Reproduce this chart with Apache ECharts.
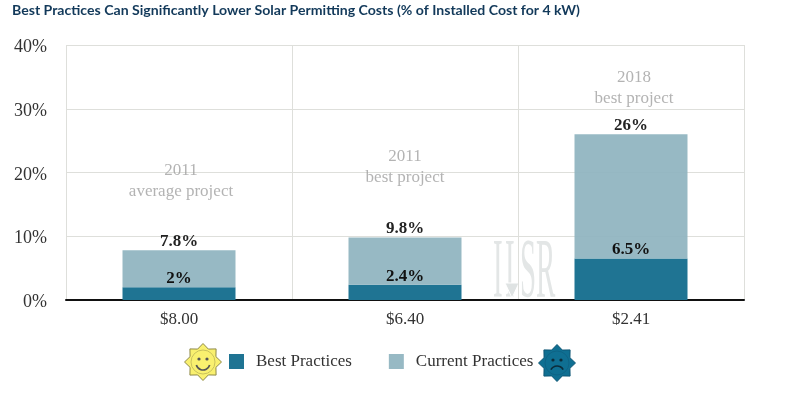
<!DOCTYPE html>
<html><head><meta charset="utf-8">
<script src="https://cdn.jsdelivr.net/npm/echarts@6/dist/echarts.min.js"></script>
<style>html,body{margin:0;padding:0;background:#fff}#c{width:805px;height:394px}</style>
</head><body><div id="c"></div>
<script>
const categories = ['$8.00', '$6.40', '$2.41'];
const bestPractices = [2, 2.4, 6.5];
const currentPractices = [5.8, 7.4, 19.5];
const bestLabels = ['2%', '2.4%', '6.5%'];
const totalLabels = ['7.8%', '9.8%', '26%'];
const notes = ['2011\naverage project', '2011\nbest project', '2018\nbest project'];
const noteHeights = [18.7, 20.8, 33.3];
const yTicks = [0, 10, 20, 30, 40];

const serif = '"Liberation Serif", serif';
const noteShift = [2, 0, 3];
function star(cx, cy, r1, r2, n) {
  const pts = [];
  for (let i = 0; i < n * 2; i++) {
    const a = -Math.PI / 2 + i * Math.PI / n, r = i % 2 ? r2 : r1;
    pts.push([cx + r * Math.cos(a), cy + r * Math.sin(a)]);
  }
  return pts;
}
function face(cx, cy, fill, stroke, happy) {
  const ink = happy ? '#555' : '#0c2c3a';
  return [
    {type:'polygon', shape:{points:star(cx,cy,18.5,14,8)}, style:{fill, stroke, lineWidth:1, lineJoin:'round'}},
    {type:'circle', shape:{cx,cy,r:12}, style:{fill, stroke: happy ? '#b5ad55' : '#0f5f80', lineWidth:0.7}},
    {type:'circle', shape:{cx:cx-4,cy:cy-3,r:1.6}, style:{fill:ink}},
    {type:'circle', shape:{cx:cx+4,cy:cy-3,r:1.6}, style:{fill:ink}},
    {type:'arc', shape: happy
      ? {cx,cy:cy+1,r:7,startAngle:0.3,endAngle:Math.PI-0.3}
      : {cx,cy:cy+10,r:7,startAngle:Math.PI+0.5,endAngle:2*Math.PI-0.5},
      style:{stroke:ink,lineWidth:1.7,fill:null}}
  ];
}
const mark = '#e3e6e6';
const chart = echarts.init(document.getElementById('c'), null, {renderer:'canvas'});
chart.setOption({
  animation:false,
  backgroundColor:'#fff',
  title:{text:'Best Practices Can Significantly Lower Solar Permitting Costs (% of Installed Cost for 4 kW)',
    left:7, top:-2,
    textStyle:{fontFamily:'Lato, sans-serif', fontSize:14.1, fontWeight:'bold', color:'#12395a'}},
  grid:{left:66, right:61, top:45, bottom:94},
  legend:{left:224, top:348, itemWidth:15, itemHeight:15, itemGap:37, icon:'rect',
    data:['Best Practices','Current Practices'],
    textStyle:{fontFamily:serif, fontSize:17, color:'#333', padding:[0,0,0,7]}},
  xAxis:{type:'category', data:categories,
    axisLine:{lineStyle:{color:'#111', width:2}}, axisTick:{show:false},
    axisLabel:{fontFamily:serif, fontSize:17, color:'#333', margin:11},
    splitLine:{show:true, lineStyle:{color:'#dedfdb', width:1}}},
  yAxis:{type:'value', min:0, max:40, interval:10,
    axisLine:{show:false}, axisTick:{show:false},
    axisLabel:{fontFamily:serif, fontSize:18, color:'#333', margin:19, verticalAlign:'top', lineHeight:5,
      formatter:v => yTicks.includes(v) ? v + '%' : ''},
    splitLine:{show:true, lineStyle:{color:'#dedfdb', width:1}}},
  series:[
    {name:'Best Practices', type:'bar', stack:'a', data:bestPractices, barWidth:113,
     itemStyle:{color:'#1f7493'},
     label:{show:true, position:'top', distance:0, fontFamily:serif, fontSize:17, fontWeight:'bold', color:'#111',
       formatter:p => bestLabels[p.dataIndex]}},
    {name:'Current Practices', type:'bar', stack:'a', data:currentPractices, barWidth:113,
     itemStyle:{color:'#8fb4bf', opacity:0.93},
     label:{show:true, position:'top', distance:0, fontFamily:serif, fontSize:17, fontWeight:'bold', color:'#111',
       formatter:p => totalLabels[p.dataIndex]}},
    {name:'notes', type:'scatter', symbolSize:0, silent:true,
     data:noteHeights.map((h,i)=>({value:[categories[i],h],
       label:{offset:[noteShift[i],0]}})),
     label:{show:true, position:'inside', fontFamily:serif, fontSize:17, lineHeight:21, color:'#a0a0a0',
       formatter:p => notes[p.dataIndex]}}
  ],
  graphic:{elements:[
    {type:'text', x:493, y:232, z:0, silent:true, scaleX:0.34,
     style:{text:'I', fontFamily:serif, fontSize:85, fill:mark}},
    {type:'text', x:505, y:232, z:0, silent:true, scaleX:0.34,
     style:{text:'I', fontFamily:serif, fontSize:85, fill:mark}},
    {type:'polygon', z:0, silent:true, shape:{points:[[505,283],[519,283],[512,298]]},
     style:{fill:'#dfe3e3', stroke:'#fff', lineWidth:1}},
    {type:'text', x:520, y:232, z:0, silent:true, scaleX:0.34,
     style:{text:'SR', fontFamily:serif, fontSize:85, fill:mark}},
    ...face(203,362,'#f9f06f','#8f8a4a',true),
    ...face(557,363,'#0f6f92','#0d5675',false)
  ]}
});
</script></body></html>
